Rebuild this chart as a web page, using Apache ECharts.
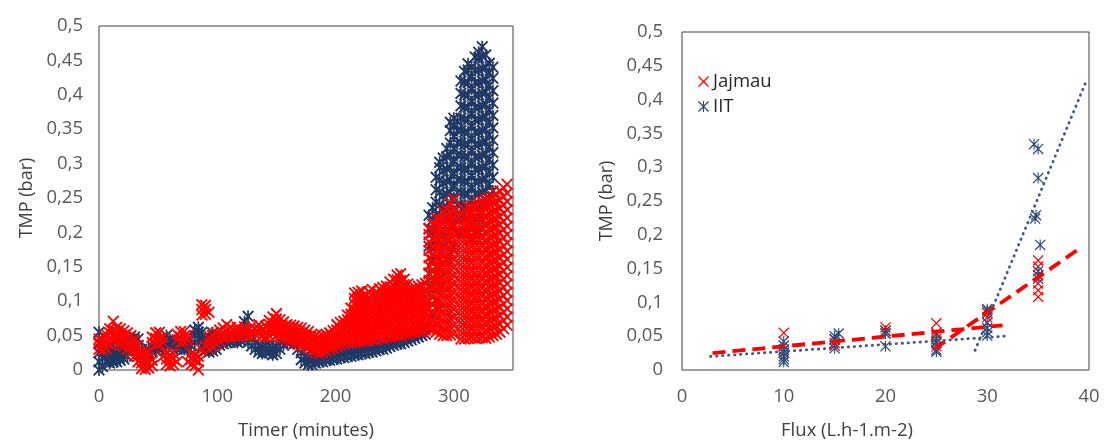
<!DOCTYPE html>
<html>
<head>
<meta charset="utf-8">
<script src="https://cdn.jsdelivr.net/npm/echarts@6/dist/echarts.min.js"></script>
<style>
  html, body { margin: 0; padding: 0; background: #ffffff; }
  #chart { width: 1111px; height: 445px; }
</style>
</head>
<body>
<div id="chart"></div>
<script>
// TMP readings over filtration time: [minute, [TMP readings in bar]]
const jajmauTimeReadings = [
  [0,[.03,.038,.045]],[3,[.028,.036,.044]],[6,[.031,.039,.047,.052]],[9,[.037,.046,.054,.06]],
  [12,[.042,.05,.058,.071]],[15,[.04,.048,.056,.062]],[18,[.036,.045,.052,.06]],[21,[.034,.042,.05,.057]],
  [24,[.03,.038,.047,.054]],[27,[.026,.034,.042,.05]],[30,[.02,.029,.036,.044]],[33,[.012,.02,.028,.036]],
  [36,[.002,.01,.018,.025]],[39,[.001,.01,.017,.024]],[42,[.003,.011,.019,.026]],[45,[.006,.014,.04,.048]],
  [48,[.038,.046,.054]],[51,[.037,.046,.055]],[54,[.04,.048,.02]],[57,[.008,.016,.024]],
  [60,[.006,.014,.022]],[63,[.008,.016,.024]],[66,[.012,.044,.052]],[69,[.04,.048,.056]],
  [72,[.041,.049,.056]],[75,[.043,.05,.012]],[78,[.008,.016,.024]],[81,[.006,.014,.022]],
  [84,[0,.012,.02]],[87,[.08,.088,.095,.03]],[90,[.081,.088,.094,.035]],[93,[.03,.038,.046,.084]],
  [96,[.034,.042,.05]],[99,[.038,.046,.054]],[102,[.042,.05,.058]],[105,[.046,.054,.061]],
  [108,[.048,.056,.066]],[111,[.048,.056,.062]],[114,[.05,.058]],[117,[.049,.057,.062]],
  [120,[.05,.058]],[123,[.051,.058,.063]],[126,[.05,.058]],[129,[.05,.057,.064]],
  [132,[.052,.06]],[135,[.052,.06,.066]],[138,[.05,.058]],[141,[.048,.056,.064]],
  [144,[.05,.058,.066,.072]],[147,[.052,.06,.068,.077]],[150,[.05,.058,.066,.074,.082]],[153,[.048,.056,.064,.073]],
  [156,[.046,.054,.062,.07]],[159,[.044,.052,.06,.066]],[162,[.042,.05,.058,.065]],[165,[.04,.048,.056,.064]],
  [168,[.038,.046,.054,.062]],[171,[.036,.044,.052,.061]],[174,[.034,.042,.05,.058]],[177,[.032,.04,.048,.056]],
  [180,[.028,.036,.044,.052]],[183,[.026,.034,.042,.05]],[186,[.024,.032,.04,.049]],[189,[.026,.034,.042,.05]],
  [192,[.028,.036,.044,.052]],[195,[.03,.038,.046,.054]],[198,[.032,.04,.048,.057]],[201,[.034,.042,.05,.058,.066]],
  [204,[.036,.044,.052,.06,.069]],[207,[.038,.046,.054,.062,.071]],[210,[.04,.048,.056,.064,.073,.08]],
  [213,[.04,.048,.056,.064,.072,.081,.09]],
  [216,[.04,.048,.056,.064,.072,.08,.088,.096,.104,.112]],
  [219,[.041,.049,.057,.065,.073,.081,.089,.097,.105,.113]],
  [222,[.042,.05,.058,.066,.074,.082,.09,.098,.106,.115]],
  [225,[.042,.05,.058,.067,.075,.083,.091,.099,.107]],
  [228,[.043,.051,.059,.066,.074,.082,.09,.098,.106,.114]],
  [231,[.044,.052,.06,.068,.076,.084,.092,.1,.108,.117]],
  [234,[.044,.052,.061,.069,.077,.085,.093,.101,.109]],
  [237,[.046,.054,.062,.07,.078,.086,.094,.102,.11,.118]],
  [240,[.046,.054,.062,.07,.079,.087,.095,.103,.111,.12]],
  [243,[.048,.056,.064,.072,.08,.088,.096,.104,.112,.122]],
  [246,[.048,.056,.064,.072,.08,.088,.097,.105,.113,.121,.128]],
  [249,[.05,.058,.066,.074,.082,.09,.098,.106,.114,.122,.132]],
  [252,[.05,.058,.066,.074,.082,.09,.099,.107,.115,.123,.131,.138]],
  [255,[.05,.058,.067,.075,.083,.091,.099,.107,.115,.122,.13,.14]],
  [258,[.052,.06,.068,.076,.084,.092,.1,.108,.116,.124,.132]],
  [261,[.052,.06,.068,.076,.085,.093,.101,.109,.117,.125]],
  [264,[.054,.062,.07,.078,.086,.094,.102,.11,.118]],
  [267,[.054,.062,.07,.079,.087,.095,.103,.111,.12]],
  [270,[.056,.064,.072,.08,.088,.096,.104,.112,.122]],
  [273,[.056,.064,.073,.081,.089,.097,.105,.113,.124]],
  [276,[.058,.066,.074,.082,.09,.098,.106,.114,.126]],
  [279,[.06,.07,.08,.09,.1,.11,.12,.13,.141,.152,.163,.174,.186,.197,.206]],
  [282,[.058,.07,.082,.094,.106,.118,.13,.142,.154,.166,.178,.19,.202,.212]],
  [285,[.055,.067,.079,.091,.103,.115,.127,.139,.151,.163,.175,.187,.199,.211,.221]],
  [288,[.052,.064,.076,.088,.1,.112,.124,.136,.148,.16,.172,.184,.196,.208,.22]],
  [291,[.05,.062,.074,.086,.098,.11,.122,.134,.146,.158,.17,.182,.194,.206,.218,.23]],
  [294,[.05,.062,.074,.086,.098,.11,.122,.134,.146,.158,.17,.182,.194,.206,.218,.233]],
  [297,[.051,.063,.075,.087,.099,.111,.123,.135,.147,.159,.171,.183,.195,.207,.219,.231,.242]],
  [300,[.052,.064,.076,.088,.1,.112,.124,.136,.148,.16,.172,.184,.196,.208,.22,.232,.249]],
  [306,[.045,.057,.069,.081,.093,.105,.117,.129,.141,.153,.165,.177,.189,.201,.213,.226]],
  [309,[.045,.057,.069,.081,.093,.105,.117,.129,.141,.153,.165,.177,.189,.201,.213,.225,.233]],
  [312,[.046,.058,.07,.082,.094,.106,.118,.13,.142,.154,.166,.178,.19,.202,.214,.226,.237]],
  [315,[.047,.059,.071,.083,.095,.107,.119,.131,.143,.155,.167,.179,.191,.203,.215,.227,.238]],
  [318,[.046,.058,.07,.082,.094,.106,.118,.13,.142,.154,.166,.178,.19,.202,.214,.226,.24]],
  [321,[.046,.058,.07,.082,.094,.106,.118,.13,.142,.154,.166,.178,.19,.202,.214,.228,.242]],
  [324,[.047,.059,.071,.083,.095,.107,.119,.131,.143,.155,.167,.179,.191,.203,.215,.227,.238,.245]],
  [327,[.046,.058,.07,.082,.094,.106,.118,.13,.142,.154,.166,.178,.19,.202,.214,.226,.238,.248]],
  [330,[.048,.06,.072,.084,.096,.108,.12,.132,.144,.156,.168,.18,.192,.204,.216,.228,.24,.25]],
  [333,[.05,.062,.074,.086,.098,.11,.122,.134,.146,.158,.17,.182,.194,.206,.218,.23,.242,.252]],
  [336,[.052,.064,.076,.088,.1,.112,.124,.136,.148,.16,.172,.184,.196,.208,.22,.232,.244,.256]],
  [339,[.055,.067,.079,.091,.103,.115,.127,.139,.151,.163,.175,.187,.199,.211,.223,.235,.247,.26]],
  [342,[.06,.072,.084,.096,.108,.12,.132,.144,.156,.168,.18,.192,.204,.216,.228,.24,.252,.265]],
  [345,[.065,.077,.089,.101,.113,.125,.137,.149,.161,.173,.185,.197,.209,.221,.233,.245,.257,.27]]
];

const iitTimeReadings = [
  [0,[0,.012,.025,.04,.055]],[3,[.005,.018,.03]],[6,[.012,.02,.03]],[9,[.01,.018,.026,.034]],
  [12,[.012,.02,.028]],[15,[.012,.02,.03]],[18,[.014,.022,.03,.038]],[21,[.016,.024,.032]],
  [24,[.02,.028,.036]],[27,[.028,.036,.044]],[30,[.03,.04,.048]],[33,[.025,.035,.045]],
  [36,[.02,.03]],[39,[.018,.026]],[42,[.022,.03]],[45,[.026,.034]],
  [48,[.028,.036]],[51,[.03,.038]],[54,[.032,.04]],[57,[.034,.042,.05]],
  [60,[.036,.044]],[63,[.034,.042]],[66,[.03,.038]],[69,[.032,.04]],
  [72,[.03,.038]],[75,[.032,.04]],[78,[.035,.045]],[81,[.04,.05,.058]],
  [84,[.045,.055,.062]],[87,[.035,.045,.055]],[90,[.028,.038,.048]],[93,[.026,.034,.044]],
  [96,[.028,.036,.046,.054]],[99,[.03,.038,.046]],[102,[.036,.044]],[105,[.038,.046]],
  [108,[.04,.048]],[111,[.04,.048]],[114,[.042,.05]],[117,[.04,.048]],
  [120,[.042,.05]],[123,[.044,.052,.07]],[126,[.04,.05,.078]],[129,[.035,.045]],
  [132,[.03,.04]],[135,[.026,.036]],[138,[.024,.034]],[141,[.026,.036]],
  [144,[.025,.035]],[147,[.022,.032]],[150,[.024,.034]],[153,[.03,.04]],
  [156,[.036,.046]],[159,[.04,.048]],[162,[.04,.048]],[165,[.038,.046]],
  [168,[.03,.04]],[171,[.015,.025]],[174,[.01,.02]],[177,[.008,.018]],
  [180,[.008,.018]],[183,[.01,.02]],[186,[.012,.022]],[189,[.012,.022]],
  [192,[.014,.024]],[195,[.014,.024]],[198,[.016,.026]],[201,[.016,.026]],
  [204,[.018,.028]],[207,[.018,.028]],[210,[.02,.03]],[213,[.02,.031]],
  [216,[.022,.032]],[219,[.022,.032]],[222,[.024,.034]],[225,[.024,.035]],
  [228,[.026,.036]],[231,[.026,.036]],[234,[.028,.038]],[237,[.03,.04]],
  [240,[.03,.041]],[243,[.032,.042]],[246,[.034,.044]],[249,[.036,.046]],
  [252,[.038,.048]],[255,[.038,.048]],[258,[.04,.05]],[261,[.042,.052]],
  [264,[.044,.054]],[267,[.046,.056]],[270,[.048,.058]],[273,[.05,.06]],
  [276,[.052,.062]],
  [279,[.06,.1,.14,.18,.205,.225]],
  [282,[.08,.12,.16,.2,.218,.236]],
  [285,[.1,.14,.18,.21,.226,.244,.262,.28]],
  [288,[.12,.16,.2,.222,.24,.258,.276,.294,.302]],
  [291,[.14,.18,.2,.218,.236,.254,.272,.29,.308]],
  [294,[.16,.2,.22,.238,.256,.274,.292,.31,.322]],
  [297,[.17,.2,.222,.24,.258,.276,.294,.312,.33,.348,.36]],
  [300,[.18,.21,.232,.25,.268,.286,.304,.322,.34,.356,.366]],
  [303,[.2,.222,.24,.258,.276,.294,.312,.33,.348,.362]],
  [306,[.2,.222,.24,.258,.276,.294,.312,.33,.348,.366,.384,.402,.42]],
  [309,[.2,.22,.238,.256,.274,.292,.31,.328,.346,.364,.382,.4,.418,.434]],
  [312,[.2,.22,.238,.256,.274,.292,.31,.328,.346,.364,.382,.4,.418,.436,.445]],
  [315,[.19,.21,.228,.246,.264,.282,.3,.318,.336,.354,.372,.39,.408,.426,.44]],
  [318,[.2,.22,.238,.256,.274,.292,.31,.328,.346,.364,.382,.4,.418,.436,.455]],
  [321,[.2,.22,.238,.256,.274,.292,.31,.328,.346,.364,.382,.4,.418,.436,.454,.462]],
  [324,[.22,.24,.258,.276,.294,.312,.33,.348,.366,.384,.402,.42,.438,.456,.47]],
  [327,[.24,.26,.278,.296,.314,.332,.35,.368,.386,.404,.422,.44,.458]],
  [330,[.25,.27,.288,.306,.324,.342,.36,.378,.396,.414,.432,.446]],
  [333,[.26,.28,.298,.316,.334,.352,.37,.388,.406,.424,.44]]
];

// TMP against imposed flux: [flux in L.h-1.m-2, TMP in bar]
const jajmauFluxPoints = [
  [10,.055],[10,.036],[10,.03],[10,.026],
  [15,.045],[15,.04],[15,.036],
  [20,.063],[20,.058],[20,.054],
  [25,.069],[25,.055],[25,.042],[25,.035],
  [30,.09],[30,.084],[30,.078],[30,.07],
  [35,.162],[35,.153],[35,.14],[35,.128],[35,.118],[35,.108]
];
const iitFluxPoints = [
  [10,.042],[10,.036],[10,.03],[10,.025],[10,.02],[10,.016],[10,.012],
  [15,.05],[15.4,.054],[15,.046],[15,.032],
  [20,.058],[20,.054],[20,.035],
  [25,.052],[25,.046],[25,.04],[25,.03],[25,.027],
  [30,.09],[30,.087],[30,.07],[30,.062],[30,.056],[30,.051],
  [34.6,.334],[35,.327],[35,.284],[34.8,.229],[34.7,.224],[35.2,.185],[35,.146],[35,.14],[35,.135]
];

// Linear trend segments: [flux, TMP] end points
const jajmauTrendLow = [[3,.025],[31.5,.066]];
const jajmauTrendHigh = [[24.8,.031],[39,.179]];
const iitTrendLow = [[2.8,.020],[31.7,.050]];
const iitTrendHigh = [[28.8,.029],[39.8,.43]];

const RED = '#FF0000';
const NAVY = '#1F3864';
const NAVY_LIGHT = '#2E4A78';
const TICK_COLOR = '#595959';
const TITLE_COLOR = '#404040';
const FONT = '"Open Sans", "Liberation Sans", sans-serif';

// Excel-like markers: a cross and a six-armed asterisk
const crossThick = 'path://M0,1.1L1.1,0L10,8.9L8.9,10ZM8.9,0L10,1.1L1.1,10L0,8.9Z';
const starThick = crossThick + 'M4.3,0L5.7,0L5.7,10L4.3,10Z';
const crossThin = 'path://M0,0.8L0.8,0L10,9.2L9.2,10ZM9.2,0L10,0.8L0.8,10L0,9.2Z';
const starThin = crossThin + 'M4.5,0L5.5,0L5.5,10L4.5,10Z';

const flatten = readings => readings.flatMap(([t, vals]) => vals.map(v => [t, v]));

const tmpLabel = v => {
  const r = Math.round(v * 100) / 100;
  return r === 0 ? '0' : String(r).replace('.', ',');
};

function valueAxisY(gridIndex, labelMargin, nameGap) {
  return {
    type: 'value', gridIndex, min: 0, max: 0.5, interval: 0.05,
    name: 'TMP (bar)', nameLocation: 'middle', nameGap,
    nameTextStyle: { fontFamily: FONT, fontSize: 18, color: TITLE_COLOR },
    axisLine: { show: false }, axisTick: { show: false }, splitLine: { show: false },
    axisLabel: { margin: labelMargin, fontFamily: FONT, fontSize: 18.5, color: TICK_COLOR, formatter: tmpLabel }
  };
}

const chart = echarts.init(document.getElementById('chart'), null, { renderer: 'canvas' });

chart.setOption({
  animation: false,
  backgroundColor: '#ffffff',
  grid: [
    { left: 99, top: 26, width: 414, height: 349, show: true, borderColor: '#404040', borderWidth: 1 },
    { left: 682, top: 32, width: 407, height: 343, show: true, borderColor: '#404040', borderWidth: 1 }
  ],
  xAxis: [
    {
      type: 'value', gridIndex: 0, min: 0, max: 350, interval: 100,
      name: 'Timer (minutes)', nameLocation: 'middle', nameGap: 51,
      nameTextStyle: { fontFamily: FONT, fontSize: 18.5, color: TITLE_COLOR },
      axisLine: { show: false }, axisTick: { show: false }, splitLine: { show: false },
      axisLabel: { margin: 17, fontFamily: FONT, fontSize: 18.5, color: TICK_COLOR, showMaxLabel: false }
    },
    {
      type: 'value', gridIndex: 1, min: 0, max: 40, interval: 10,
      name: 'Flux (L.h-1.m-2)', nameLocation: 'middle', nameGap: 51,
      nameTextStyle: { fontFamily: FONT, fontSize: 18.5, color: TITLE_COLOR, padding: [0, 77, 0, 0] },
      axisLine: { show: false }, axisTick: { show: false }, splitLine: { show: false },
      axisLabel: { margin: 17, fontFamily: FONT, fontSize: 18.5, color: TICK_COLOR }
    }
  ],
  yAxis: [valueAxisY(0, 16, 63), valueAxisY(1, 19, 66)],
  legend: {
    left: 693, top: 67, orient: 'vertical', itemWidth: 11, itemHeight: 11, itemGap: 6,
    selectedMode: false,
    textStyle: { fontFamily: FONT, fontSize: 18.5, color: '#262626', padding: [0, 0, 0, -1] },
    data: [
      { name: 'Jajmau', icon: crossThin, itemStyle: { color: RED } },
      { name: 'IIT', icon: starThin, itemStyle: { color: NAVY_LIGHT } }
    ]
  },
  series: [
    // time course: IIT underneath, Jajmau drawn over it
    {
      name: 'IIT', type: 'scatter', xAxisIndex: 0, yAxisIndex: 0,
      symbol: starThick, symbolSize: 12, itemStyle: { color: NAVY, opacity: 1 },
      data: flatten(iitTimeReadings)
    },
    {
      name: 'Jajmau', type: 'scatter', xAxisIndex: 0, yAxisIndex: 0,
      symbol: crossThick, symbolSize: 12, itemStyle: { color: RED, opacity: 1 },
      data: flatten(jajmauTimeReadings)
    },
    // flux step test
    {
      name: 'Jajmau', type: 'scatter', xAxisIndex: 1, yAxisIndex: 1,
      symbol: crossThin, symbolSize: 11, itemStyle: { color: RED, opacity: 1 },
      data: jajmauFluxPoints
    },
    {
      name: 'IIT', type: 'scatter', xAxisIndex: 1, yAxisIndex: 1,
      symbol: starThin, symbolSize: 11, itemStyle: { color: NAVY_LIGHT, opacity: 1 },
      data: iitFluxPoints
    },
    {
      type: 'line', xAxisIndex: 1, yAxisIndex: 1, symbol: 'none', silent: true, z: 3,
      lineStyle: { color: RED, width: 3.8, type: [13, 7] }, data: jajmauTrendLow
    },
    {
      type: 'line', xAxisIndex: 1, yAxisIndex: 1, symbol: 'none', silent: true, z: 3,
      lineStyle: { color: RED, width: 3.8, type: [13, 7] }, data: jajmauTrendHigh
    },
    {
      type: 'line', xAxisIndex: 1, yAxisIndex: 1, symbol: 'none', silent: true, z: 3,
      lineStyle: { color: '#3F5A86', width: 2.8, type: [0.5, 5.5], cap: 'round' }, data: iitTrendLow
    },
    {
      type: 'line', xAxisIndex: 1, yAxisIndex: 1, symbol: 'none', silent: true, z: 3,
      lineStyle: { color: '#3F5A86', width: 2.8, type: [0.5, 5.5], cap: 'round' }, data: iitTrendHigh
    }
  ]
});
</script>
</body>
</html>
